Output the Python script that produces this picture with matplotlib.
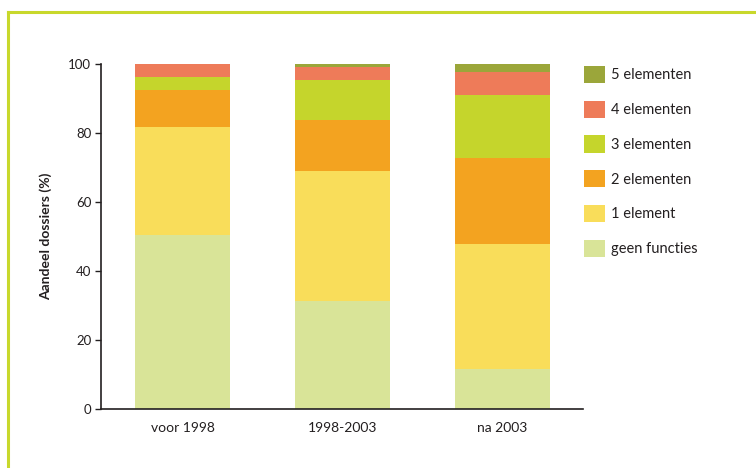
import matplotlib
matplotlib.use("Agg")
import matplotlib.pyplot as plt
from matplotlib.lines import Line2D
import numpy as np

plt.rcParams['font.family'] = ['Lato', 'DejaVu Sans']

# periodes en aandelen (%) per aantal elementen
categories = ["voor 1998", "1998-2003", "na 2003"]
series_names = ["geen functies", "1 element", "2 elementen", "3 elementen", "4 elementen", "5 elementen"]
geen_functies = [50.4, 31.3, 11.6]
een_element = [31.3, 37.7, 36.2]
twee_elementen = [10.7, 14.8, 25.0]
drie_elementen = [3.8, 11.6, 18.2]
vier_elementen = [3.8, 3.6, 6.7]
vijf_elementen = [0.0, 1.0, 2.3]
colors = ["#d9e498", "#f9dd5a", "#f3a320", "#c5d52c", "#ee7b59", "#9ba63a"]

values = [geen_functies, een_element, twee_elementen, drie_elementen, vier_elementen, vijf_elementen]

fig = plt.figure(figsize=(7.56, 4.68), dpi=100)
ax = fig.add_axes([101 / 756, 1 - 409 / 468, (583 - 101) / 756, (409 - 64) / 468])

x = np.arange(len(categories))
bottom = np.zeros(len(categories))
handles = []
for name, vals, col in zip(series_names, values, colors):
    b = ax.bar(x, vals, 0.594, bottom=bottom, color=col, label=name, linewidth=0, clip_on=False)
    bottom += np.array(vals)
    handles.append(b)

ax.set_xlim(-0.51, 2.503)
ax.set_ylim(0, 100)
ax.set_yticks([0, 20, 40, 60, 80, 100])
ax.set_xticks(x)
ax.set_xticklabels(categories, fontsize=10, color="#231f20")
ax.tick_params(axis="y", length=4, width=1, labelsize=9.5, colors="#231f20", pad=3)
ax.tick_params(axis="x", length=0, pad=9)
for s in ["top", "right"]:
    ax.spines[s].set_visible(False)
for s in ["left", "bottom"]:
    ax.spines[s].set_color("#231f20")
    ax.spines[s].set_linewidth(1.2)
ax.set_ylabel("Aandeel dossiers (%)", fontsize=10, fontweight="bold", color="#231f20", labelpad=12)

leg = ax.legend(handles[::-1], series_names[::-1], loc="upper left", bbox_to_anchor=(0.99, 1.012),
                frameon=False, fontsize=10.5, handlelength=1.45, handleheight=1.45,
                labelspacing=1.2, handletextpad=0.4, borderaxespad=0)
for t in leg.get_texts():
    t.set_color("#231f20")

# lime kader rond de figuur
fig.add_artist(Line2D([8 / 756, 8 / 756], [0, 1 - 12 / 468], color="#c8d82c", lw=2.2))
fig.add_artist(Line2D([8 / 756, 1], [1 - 12 / 468, 1 - 12 / 468], color="#c8d82c", lw=2.2))

fig.savefig("out.png", dpi=100)
